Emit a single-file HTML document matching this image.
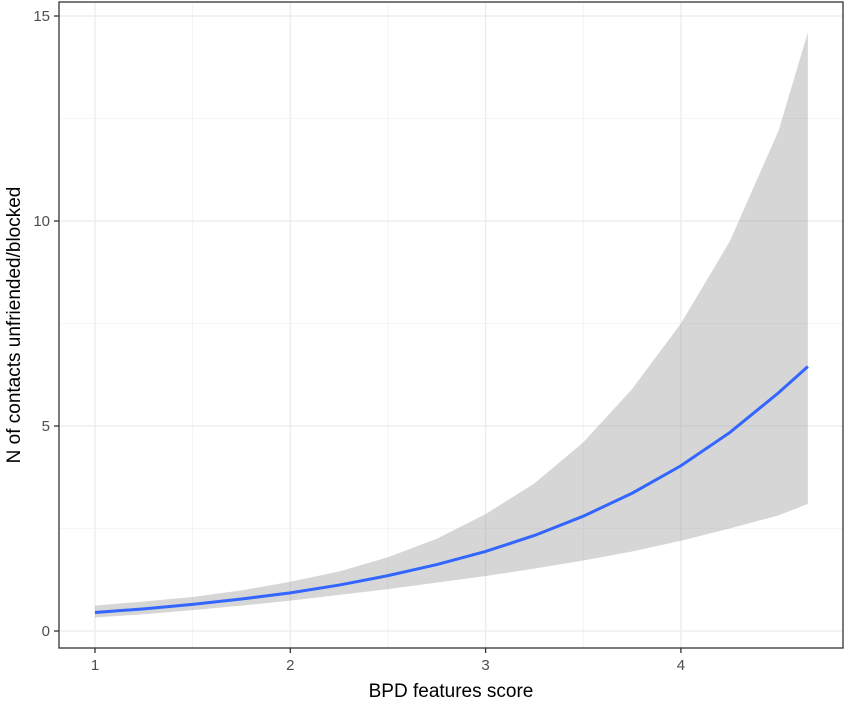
<!DOCTYPE html>
<html><head><meta charset="utf-8"><style>
body{margin:0;background:#fff;}
svg text{font-family:"Liberation Sans",sans-serif;}
</style></head><body>
<svg width="850" height="701">
<g id="grid"></g>
<g id="marks"></g>
<rect x="59" y="2" width="784" height="646" fill="none" stroke="#333" stroke-width="1.3"/>
<g id="axes"></g>
<text x="451" y="697" text-anchor="middle" font-size="19" fill="#000">BPD features score</text>
<text transform="translate(20,325) rotate(-90)" text-anchor="middle" font-size="19" fill="#000">N of contacts unfriended/blocked</text>
</svg>
<script>
const xs=[1,1.25,1.5,1.75,2,2.25,2.5,2.75,3,3.25,3.5,3.75,4,4.25,4.5,4.65];
const fit=[0.45,0.54,0.65,0.78,0.93,1.12,1.35,1.62,1.94,2.33,2.80,3.36,4.03,4.84,5.81,6.45];
const upper=[0.62,0.72,0.83,0.99,1.2,1.45,1.8,2.25,2.85,3.6,4.6,5.9,7.5,9.5,12.2,14.6];
const lower=[0.33,0.41,0.51,0.62,0.74,0.88,1.02,1.18,1.34,1.52,1.72,1.94,2.2,2.5,2.82,3.1];
const xTicks=[1,2,3,4];
const yTicks=[0,5,10,15];
const X=v=>95+(v-1)*195.3;
const Y=v=>631-v*41;
const NS="http://www.w3.org/2000/svg";
function mk(t,a,p){const e=document.createElementNS(NS,t);for(const k in a)e.setAttribute(k,a[k]);p.appendChild(e);return e;}
const grid=document.getElementById('grid'),marks=document.getElementById('marks'),axes=document.getElementById('axes');
for(let i=0;i<xTicks.length;i++){
  const l=mk('line',{x1:X(xTicks[i]),x2:X(xTicks[i]),y1:2,y2:648,stroke:'#ebebeb','stroke-width':1.3},grid);
  
  
  if(i<xTicks.length-1){const m=mk('line',{x1:X(xTicks[i]+0.5),x2:X(xTicks[i]+0.5),y1:2,y2:648,stroke:'#f2f2f2','stroke-width':0.8},grid);
  
  }
}
for(let i=0;i<yTicks.length;i++){
  const l=mk('line',{x1:59,x2:843,y1:Y(yTicks[i]),y2:Y(yTicks[i]),stroke:'#ebebeb','stroke-width':1.3},grid);
  
  
  if(i<yTicks.length-1){const m=mk('line',{x1:59,x2:843,y1:Y(yTicks[i]+2.5),y2:Y(yTicks[i]+2.5),stroke:'#f2f2f2','stroke-width':0.8},grid);
  
  }
}
let d='M'+xs.map((x,i)=>X(x)+','+Y(upper[i])).join('L');
for(let i=xs.length-1;i>=0;i--)d+='L'+X(xs[i])+','+Y(lower[i]);
const band=mk('path',{d:d+'Z',fill:'#999','fill-opacity':0.4},marks);


const line=mk('path',{d:'M'+xs.map((x,i)=>X(x)+','+Y(fit[i])).join('L'),fill:'none',stroke:'#3366ff','stroke-width':3},marks);


xTicks.forEach(v=>{
  const t=mk('line',{x1:X(v),x2:X(v),y1:648,y2:653,stroke:'#333','stroke-width':1.3},axes);
  
  
  const tx=mk('text',{x:X(v),y:670,'text-anchor':'middle','font-size':15,fill:'#4d4d4d'},axes);
  tx.textContent=v;
  
  
});
yTicks.forEach(v=>{
  const t=mk('line',{x1:54,x2:59,y1:Y(v),y2:Y(v),stroke:'#333','stroke-width':1.3},axes);
  
  
  const tx=mk('text',{x:50,y:Y(v)+5,'text-anchor':'end','font-size':15,fill:'#4d4d4d'},axes);
  tx.textContent=v;
  
  
});
</script>
</body></html>
